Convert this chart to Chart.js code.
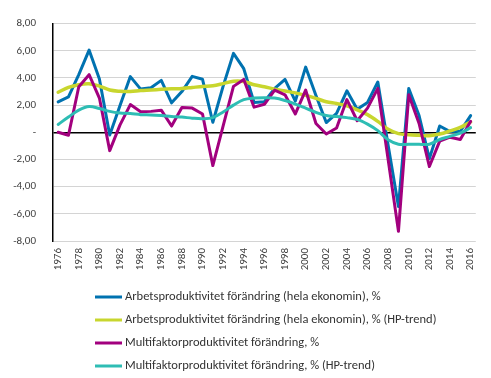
<!DOCTYPE html>
<html>
<head>
<meta charset="utf-8">
<script src="https://cdn.jsdelivr.net/npm/chart.js@4"></script>
<style>
html,body{margin:0;padding:0;background:#fff;}
#wrap{position:relative;width:491px;height:378px;}
</style>
</head>
<body>
<div id="wrap"><canvas id="c" width="491" height="378"></canvas></div>
<script>
const years = ['1976','1977','1978','1979','1980','1981','1982','1983','1984','1985',
  '1986','1987','1988','1989','1990','1991','1992','1993','1994','1995',
  '1996','1997','1998','1999','2000','2001','2002','2003','2004','2005',
  '2006','2007','2008','2009','2010','2011','2012','2013','2014','2015','2016'];

const arbetsprod = [2.24, 2.6, 4.25, 6.05, 3.93, -0.2, 1.98, 4.1, 3.18, 3.28,
  3.82, 2.17, 3.0, 4.12, 3.9, 0.74, 3.4, 5.81, 4.68, 2.2,
  2.25, 3.23, 3.89, 2.29, 4.8, 2.7, 0.72, 1.4, 3.05, 1.7,
  2.2, 3.7, -0.95, -5.46, 3.23, 1.23, -1.94, 0.46, 0.05, 0.08, 1.23];

const arbetsprodTrend = [2.95, 3.3, 3.5, 3.57, 3.4, 3.11, 3.02, 3.0, 3.07, 3.11,
  3.16, 3.2, 3.23, 3.3, 3.37, 3.42, 3.58, 3.76, 3.74, 3.5,
  3.35, 3.18, 3.04, 2.9, 2.72, 2.5, 2.25, 2.12, 1.95, 1.65,
  1.3, 0.8, 0.22, -0.1, -0.18, -0.22, -0.25, -0.13, 0.1, 0.36, 0.76];

const multifaktor = [0, -0.22, 3.35, 4.24, 2.52, -1.35, 0.55, 2.04, 1.52, 1.54,
  1.63, 0.46, 1.82, 1.78, 1.35, -2.45, 0.48, 3.38, 3.89, 1.85,
  2.06, 3.11, 2.76, 1.35, 3.11, 0.65, -0.13, 0.32, 2.41, 0.85,
  1.78, 3.23, -2.0, -7.29, 2.76, 0.65, -2.52, -0.65, -0.36, -0.53, 0.81];

const multifaktorTrend = [0.58, 1.12, 1.63, 1.9, 1.75, 1.54, 1.42, 1.38, 1.3, 1.28,
  1.23, 1.16, 1.12, 1.04, 1.0, 1.08, 1.5, 2.0, 2.4, 2.52,
  2.55, 2.52, 2.34, 2.08, 1.78, 1.47, 1.23, 1.16, 1.08, 0.95,
  0.6, 0.12, -0.55, -0.88, -0.88, -0.88, -0.88, -0.53, -0.3, -0.06, 0.34];

const seriesNames = [
  'Arbetsproduktivitet förändring (hela ekonomin), %',
  'Arbetsproduktivitet förändring (hela ekonomin), % (HP-trend)',
  'Multifaktorproduktivitet förändring, %',
  'Multifaktorproduktivitet förändring, % (HP-trend)'
];

const yTicks = [-8, -6, -4, -2, 0, 2, 4, 6, 8];

const FONT = 'Carlito, Lato, "Liberation Sans", sans-serif';

const legendPlugin = {
  id: 'listLegend',
  afterDraw(chart, args, opts) {
    const ctx = chart.ctx;
    ctx.save();
    ctx.font = opts.fontSize + 'px ' + FONT;
    ctx.textBaseline = 'middle';
    ctx.textAlign = 'left';
    chart.data.datasets.forEach((ds, i) => {
      const y = opts.top + i * opts.rowGap;
      ctx.strokeStyle = ds.borderColor;
      ctx.lineWidth = 3;
      ctx.beginPath();
      ctx.moveTo(opts.left, y);
      ctx.lineTo(opts.left + opts.lineLen, y);
      ctx.stroke();
      ctx.fillStyle = opts.color;
      ctx.fillText(ds.label, opts.left + opts.lineLen + 3, y);
    });
    ctx.restore();
  }
};

new Chart(document.getElementById('c'), {
  type: 'line',
  data: {
    labels: years,
    datasets: [
      { label: seriesNames[0], data: arbetsprod, borderColor: '#0072B0', borderWidth: 3, tension: 0, order: 4 },
      { label: seriesNames[1], data: arbetsprodTrend, borderColor: '#C8D62E', borderWidth: 3.5, tension: 0.35, order: 3 },
      { label: seriesNames[2], data: multifaktor, borderColor: '#A2007E', borderWidth: 3, tension: 0, order: 2 },
      { label: seriesNames[3], data: multifaktorTrend, borderColor: '#2EBDB4', borderWidth: 3, tension: 0.35, order: 1 }
    ]
  },
  options: {
    responsive: false,
    animation: false,
    elements: { point: { radius: 0, hoverRadius: 0 }, line: { borderJoinStyle: 'round', borderCapStyle: 'round' } },
    layout: { padding: { left: 0, right: 14, top: 14, bottom: 97 } },
    plugins: {
      legend: { display: false },
      tooltip: { enabled: false },
      listLegend: { left: 95, top: 297, rowGap: 23, lineLen: 27, fontSize: 12.5, color: '#333333' }
    },
    scales: {
      x: {
        type: 'category',
        offset: true,
        grid: { display: false, drawTicks: false },
        border: { display: false },
        afterFit(scale) { scale.height = 40; },
        ticks: {
          autoSkip: false,
          minRotation: 90,
          maxRotation: 90,
          padding: 7,
          color: '#404040',
          font: { family: FONT, size: 11 },
          callback(val, idx) { return idx % 2 === 0 ? years[idx] : ''; }
        }
      },
      y: {
        min: -8,
        max: 8,
        afterFit(scale) { scale.width = 53; },
        afterBuildTicks(scale) { scale.ticks = yTicks.map(v => ({ value: v })); },
        grid: {
          drawTicks: false,
          color(ctx) { return ctx.tick && ctx.tick.value === 0 ? '#000000' : '#D4D4D4'; },
          lineWidth(ctx) { return ctx.tick && ctx.tick.value === 0 ? 1.5 : 1; }
        },
        border: { display: true, color: '#000000', width: 1.5 },
        ticks: {
          padding: 17,
          color: '#404040',
          font: { family: FONT, size: 11 },
          callback(v) { return v === 0 ? '-' : v.toFixed(2).replace('.', ','); }
        }
      }
    }
  },
  plugins: [legendPlugin]
});
</script>
</body>
</html>
